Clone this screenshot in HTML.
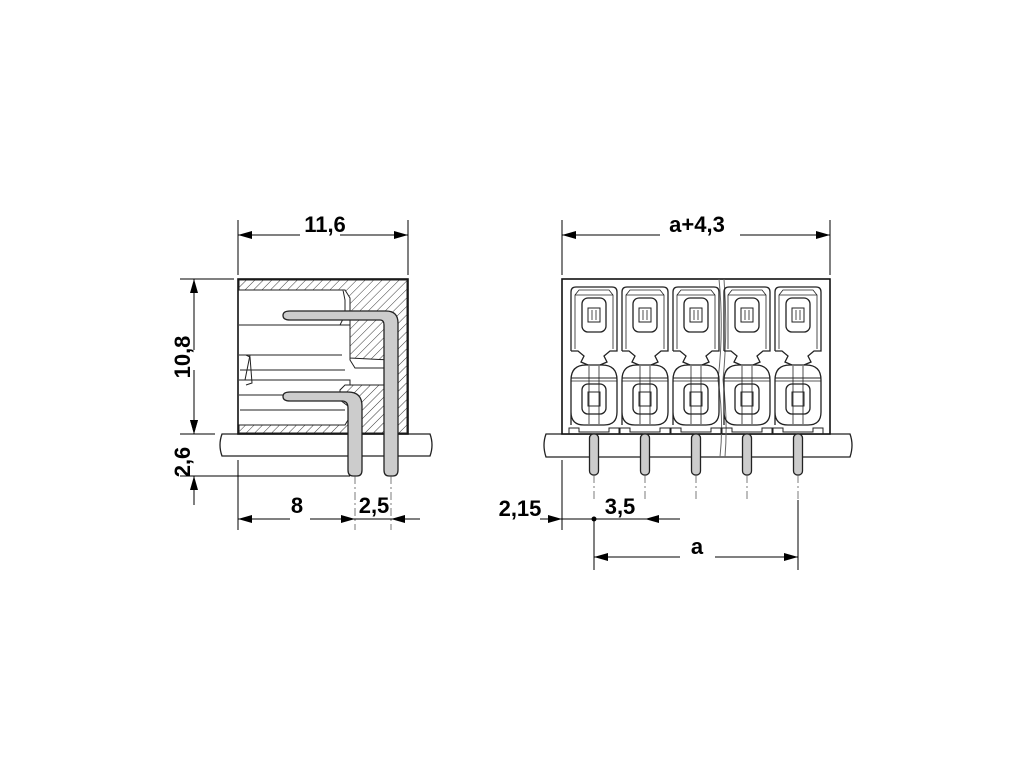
<!DOCTYPE html>
<html><head><style>html,body{margin:0;padding:0;background:#fff}svg{display:block}</style></head><body>
<svg width="1020" height="765" viewBox="0 0 1020 765" xmlns="http://www.w3.org/2000/svg">
<defs>
<pattern id="h" width="6" height="6" patternUnits="userSpaceOnUse" patternTransform="rotate(45)">
<line x1="0" y1="0" x2="0" y2="6" stroke="#222" stroke-width="0.9"/></pattern>
<marker id="a" markerWidth="14" markerHeight="8" refX="14" refY="4" orient="auto" markerUnits="userSpaceOnUse"><path d="M0,0 L14,4 L0,8z" fill="#000"/></marker>
<g id="m" fill="none" stroke="#222" stroke-width="1.3">
<path d="M-23,351 V292 Q-23,287 -18,287 H18 Q23,287 23,292 V351 H16 L10,356 L13,362 L6,365 M-23,351 H-16 L-10,356 L-13,362 L-6,365"/>
<path d="M-19,349 V295 L-15,290 H15 L19,295 V349 M-19,295 H19" stroke-width="0.8"/>
<rect x="-12" y="298" width="24" height="34" rx="6"/>
<rect x="-6" y="308" width="12" height="14" stroke-width="1"/>
<line x1="-2" y1="310" x2="-2" y2="320" stroke-width="0.8"/><line x1="2" y1="310" x2="2" y2="320" stroke-width="0.8"/>
<path d="M-23,425 V380 Q-23,365 -8,365 H8 Q23,365 23,380 V412 Q23,425 10,425 H-10 Q-23,425 -23,412"/>
<line x1="-23" y1="378" x2="23" y2="378" stroke-width="1"/>
<line x1="-23" y1="381" x2="23" y2="381" stroke-width="0.8"/>
<line x1="-5" y1="366" x2="-5" y2="424" stroke-width="0.8"/><line x1="5" y1="366" x2="5" y2="424" stroke-width="0.8"/>
<rect x="-12" y="384" width="24" height="30" rx="6"/>
<rect x="-6" y="392" width="12" height="14" stroke-width="1"/>
<path d="M-25,434 V428 H-15 V432 H15 V428 H25 V434" stroke-width="1"/>
<rect x="-4.5" y="434" width="9" height="41" rx="4" fill="#ccc" stroke="#222"/>
<line x1="0" y1="475" x2="0" y2="500" stroke="#444" stroke-width="0.7" stroke-dasharray="8,3,2,3"/>
</g>
</defs>
<g font-family="Liberation Sans, Arial, sans-serif" font-weight="bold" font-size="22" fill="#000">

<!-- LEFT VIEW -->
<path d="M222,434 H430 Q434,445 430,456 H222 Q218,445 222,434z" fill="#fff" stroke="#222" stroke-width="1.3"/>
<rect x="238" y="279" width="170" height="155" fill="#fff" stroke="#111" stroke-width="1.6"/>
<path d="M239,280 H407 V433 H239 V425 H345 L348,420 V406 L340,400 V390 L345,385 H390 V360 L350,358 V298 L345,290 H239z" fill="url(#h)" stroke="#222" stroke-width="1"/>
<rect x="240" y="290" width="104" height="20" fill="#fff" stroke="none"/>
<path d="M239,290 H343 L345,300 V315 L340,325 H240" fill="none" stroke="#222" stroke-width="1"/>
<path d="M239,325 H350 V360 L355,368 H390 M239,355 H342 M240,370 H345 M250,355 L245,380 M239,380 H350 V385 M239,395 H340 M240,410 H345 M239,425 H345" fill="none" stroke="#222" stroke-width="1"/>
<path d="M246,355 L250,357 L252,383 L246,385" fill="none" stroke="#222" stroke-width="1"/>
<path d="M290,311 H386 Q398,311 398,323 V470 Q398,476 393,476 H389 Q384,476 384,470 V325 Q384,320 380,320 H290 Q283,320 283,315.5 Q283,311 290,311z" fill="#ccc" stroke="#222" stroke-width="1.3"/>
<path d="M290,392 H348 Q362,392 362,406 V470 Q362,476 357,476 H353 Q348,476 348,470 V408 Q348,401 342,401 H290 Q283,401 283,396.5 Q283,392 290,392z" fill="#ccc" stroke="#222" stroke-width="1.3"/>
<g stroke="#444" stroke-width="0.7" stroke-dasharray="8,3,2,3"><line x1="355" y1="476" x2="355" y2="530"/><line x1="391" y1="476" x2="391" y2="530"/></g>

<g stroke="#000" stroke-width="1" fill="none">
<line x1="238" y1="220" x2="238" y2="275"/><line x1="408" y1="220" x2="408" y2="275"/>
<line x1="300" y1="235" x2="238" y2="235" marker-end="url(#a)"/><line x1="340" y1="235" x2="408" y2="235" marker-end="url(#a)"/>
<line x1="180" y1="279" x2="234" y2="279"/><line x1="180" y1="434" x2="215" y2="434"/><line x1="180" y1="476" x2="350" y2="476"/>
<line x1="194" y1="350" x2="194" y2="279" marker-end="url(#a)"/><line x1="194" y1="370" x2="194" y2="434" marker-end="url(#a)"/>
<line x1="194" y1="410" x2="194" y2="434" marker-end="url(#a)"/><line x1="194" y1="505" x2="194" y2="476" marker-end="url(#a)"/>
<line x1="238" y1="460" x2="238" y2="530"/>
<line x1="290" y1="519" x2="238" y2="519" marker-end="url(#a)"/><line x1="310" y1="519" x2="355" y2="519" marker-end="url(#a)"/>
<line x1="420" y1="519" x2="391" y2="519" marker-end="url(#a)"/><line x1="355" y1="519" x2="391" y2="519"/>
</g>
<text x="325" y="232" text-anchor="middle">11,6</text>
<text transform="translate(190,357) rotate(-90)" text-anchor="middle">10,8</text>
<text transform="translate(190,462) rotate(-90)" text-anchor="middle">2,6</text>
<text x="297" y="513" text-anchor="middle">8</text>
<text x="374" y="513" text-anchor="middle">2,5</text>

<!-- RIGHT VIEW -->
<path d="M546,434 H850 Q854,445 850,457 H546 Q542,445 546,434z" fill="#fff" stroke="#222" stroke-width="1.3"/>
<rect x="562" y="279" width="268" height="155" fill="#fff" stroke="#111" stroke-width="1.6"/>
<path d="M719,279 Q724,330 718,380 Q724,420 720,457" fill="none" stroke="#666" stroke-width="1"/>
<path d="M724,279 Q728,330 723,380 Q728,420 725,457" fill="none" stroke="#666" stroke-width="1"/>
<use href="#m" x="594"/><use href="#m" x="645"/><use href="#m" x="696"/><use href="#m" x="747"/><use href="#m" x="798"/>

<g stroke="#000" stroke-width="1" fill="none">
<line x1="562" y1="220" x2="562" y2="275"/><line x1="830" y1="220" x2="830" y2="275"/>
<line x1="660" y1="235" x2="562" y2="235" marker-end="url(#a)"/><line x1="740" y1="235" x2="830" y2="235" marker-end="url(#a)"/>
<line x1="562" y1="460" x2="562" y2="530"/>
<line x1="540" y1="519" x2="562" y2="519" marker-end="url(#a)"/><line x1="562" y1="519" x2="645" y2="519"/>
<line x1="680" y1="519" x2="645" y2="519" marker-end="url(#a)"/>
<line x1="594" y1="519" x2="594" y2="570"/><line x1="798" y1="500" x2="798" y2="570"/>
<line x1="680" y1="557" x2="594" y2="557" marker-end="url(#a)"/><line x1="715" y1="557" x2="798" y2="557" marker-end="url(#a)"/>
</g>
<circle cx="594" cy="519" r="2.5" fill="#000"/>
<text x="697" y="232" text-anchor="middle">a+4,3</text>
<text x="520" y="516" text-anchor="middle">2,15</text>
<text x="620" y="514" text-anchor="middle">3,5</text>
<text x="697" y="554" text-anchor="middle">a</text>
</g>
</svg>
</body></html>
